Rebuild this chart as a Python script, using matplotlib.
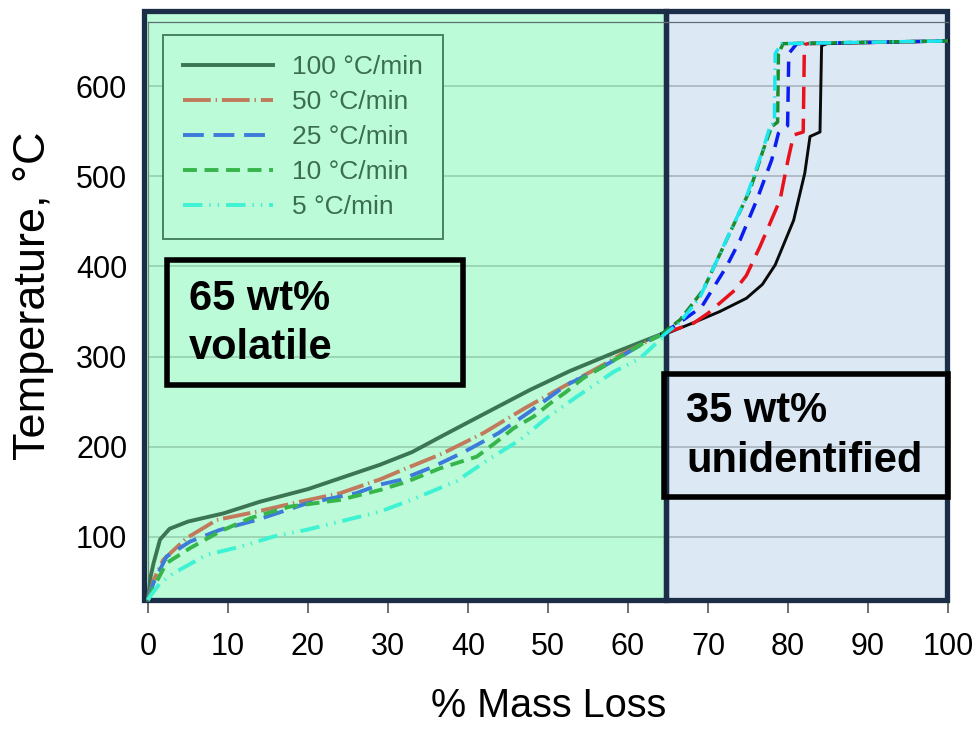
import matplotlib
matplotlib.use('Agg')
import matplotlib.pyplot as plt
from matplotlib.patches import Rectangle

plt.rcParams['font.family'] = ['Liberation Sans', 'DejaVu Sans']
plt.rcParams['lines.scale_dashes'] = False

# ---------------- data ----------------
labels = ['100 °C/min', '50 °C/min', '25 °C/min', '10 °C/min', '5 °C/min']

# volatile part (left panel), x = % mass loss, y = temperature (°C)
x100 = [0, 0.3, 0.7, 1.5, 2.7, 5, 9.4, 14, 20, 24, 29, 33, 37, 41.5, 47.75, 52.75, 58.2, 64.5]
y100 = [30, 55, 71, 97, 109, 117, 126, 139, 153, 165, 180, 194, 213, 234, 263, 284, 304, 326]

x50 = [0, 0.7, 1.9, 4.8, 8.6, 13.6, 19, 24, 29, 32, 36.7, 41.9, 47.1, 52.3, 56.9, 59.4, 62, 64.6]
y50 = [30, 52, 74.5, 98.5, 118.8, 128, 139, 148.4, 163.7, 175, 192, 215, 242.7, 268.5, 290.7, 303.6, 315, 326]

x25 = [0, 0.67, 2.3, 5.25, 9, 13.6, 19.8, 26, 29, 31.5, 35.7, 39.6, 43.8, 47.75, 52.3, 55.7, 59.8, 62.3, 64.6]
y25 = [30, 48.7, 78, 94.8, 107.8, 118.8, 137, 148.4, 158, 163, 178, 194.6, 215, 239, 268.5, 283, 303.6, 316.5, 326]

x10 = [0, 0.7, 2.3, 5.25, 9, 12.75, 17.75, 24, 29, 32.3, 36.5, 41.1, 43.6, 45.7, 48.2, 50.25, 52.3, 54.4, 56.9, 59.4, 61.9, 64.6]
y10 = [30, 44, 70.8, 87.5, 106, 120.7, 133.6, 141, 152, 161, 176, 189, 205.6, 220.5, 233.4, 248, 261, 276, 289, 301.8, 314.7, 326]

x5 = [0, 0.25, 1.5, 3.2, 7.3, 11.5, 15.7, 19.8, 24, 29, 33.2, 38.6, 42.75, 46.5, 49.8, 53.6, 58.2, 61.5, 64.4]
y5 = [30, 33.8, 48.7, 59.7, 80, 89, 100.4, 107.8, 117, 128, 142, 162, 187, 207.5, 231.6, 255.5, 283, 298, 322]

# unidentified part (right panel)
xr100 = [64.2, 65.25, 68.2, 71.5, 74.8, 76.8, 78.4, 80.7, 82.1, 82.75, 84.0, 84.2, 84.9, 100]
yr100 = [325, 327, 337.6, 350, 364.6, 380, 401.6, 451, 503.5, 544, 549, 644.7, 647, 650]

xr50 = [64.2, 68.2, 70, 73.4, 74.8, 76.5, 79, 80, 80.7, 81.9, 82.05, 82.5, 100]
yr50 = [325, 337, 348, 374, 390, 422, 473.6, 518, 545.7, 549, 646, 647, 650]

xr25 = [64.2, 66.5, 69.2, 72.3, 74, 76.1, 77.96, 78.8, 79.4, 79.95, 80.1, 81.1, 100]
yr25 = [325, 338, 355, 399.6, 429, 473.6, 518, 547.6, 553, 556, 636, 647, 650]

xr10 = [64.2, 66.5, 69.4, 72.3, 75.25, 76.9, 77.96, 78.7, 78.8, 79.4, 100]
yr10 = [325, 340.6, 373.8, 429, 484.7, 529, 555, 560, 636, 647, 650]

xr5 = [64.2, 66.5, 69, 71.9, 74.8, 76.7, 77.75, 78.3, 78.4, 79.2, 100]
yr5 = [322, 338, 366, 421.8, 477, 525, 555, 560, 636, 647, 650]

xticks = list(range(0, 101, 10))
yticks = list(range(100, 601, 100))

# ---------------- figure ----------------
fig = plt.figure(figsize=(9.77, 7.29), dpi=100)
ax = fig.add_axes([148/977, 129/729, 800/977, 578/729])
ax.set_xlim(0, 100)
ax.set_ylim(30, 671)
ax.set_facecolor('white')

GREEN_BG = '#BBFBD8'
BLUE_BG = '#DCE8F4'
NAVY = '#1c2e47'
xl, xm, xr = -0.56, 64.7, 99.9
yb, yt = 30, 683.7

ax.add_patch(Rectangle((xl, yb), xm - xl, yt - yb, facecolor=GREEN_BG,
                       edgecolor='none', clip_on=False, zorder=0))
ax.add_patch(Rectangle((xm, yb), xr - xm, yt - yb, facecolor=BLUE_BG,
                       edgecolor='none', clip_on=False, zorder=0))

for v in yticks:
    ax.hlines(v, xl, xm, color='#95cfae', lw=1.2, zorder=1)
    ax.hlines(v, xm, xr, color='#a9b4bf', lw=1.2, zorder=1)

ax.add_patch(Rectangle((xl, yb), xm - xl, yt - yb, facecolor='none',
                       edgecolor=NAVY, lw=3.8, clip_on=False, zorder=2))
ax.add_patch(Rectangle((xm, yb), xr - xm, yt - yb, facecolor='none',
                       edgecolor=NAVY, lw=3.8, clip_on=False, zorder=2))

for s in ['right', 'bottom']:
    ax.spines[s].set_visible(False)
ax.spines['top'].set_color('#5f6d75')
ax.spines['top'].set_linewidth(0.9)
ax.spines['left'].set_color('#6d8c7a')
ax.spines['left'].set_linewidth(0.9)

# left (volatile) curves
lw = 2.8
ax.plot(x100, y100, color='#3C7552', lw=lw, ls='-', label=labels[0], zorder=4, clip_on=False)
ax.plot(x50, y50, color='#C17A5B', lw=lw, ls=(0, (20, 3.5, 1, 3.5)), label=labels[1], zorder=4, clip_on=False)
ax.plot(x25, y25, color='#3D7BDB', lw=lw, ls=(0, (15, 7)), label=labels[2], zorder=4, clip_on=False)
ax.plot(x10, y10, color='#36B54A', lw=lw, ls=(0, (10, 5.5)), label=labels[3], zorder=4, clip_on=False)
ax.plot(x5, y5, color='#3EF2D4', lw=lw, ls=(0, (14, 5, 1, 5, 1, 5)), label=labels[4], zorder=4, clip_on=False)

# right (unidentified) curves
ax.plot(xr100, yr100, color='#0a0a0a', lw=2.1, ls='-', zorder=4, clip_on=False)
ax.plot(xr50, yr50, color='#E8121C', lw=2.5, ls=(0, (16, 7)), zorder=4, clip_on=False)
ax.plot(xr25, yr25, color='#0A1EF0', lw=2.5, ls=(0, (11, 7)), zorder=4, clip_on=False)
ax.plot(xr10, yr10, color='#1E8C2A', lw=2.5, ls=(0, (8, 3.5)), zorder=4, clip_on=False)
ax.plot(xr5, yr5, color='#1CE6F0', lw=2.5, ls=(0, (11, 4, 1, 4)), zorder=4, clip_on=False)

# ticks
ax.set_xticks(xticks)
ax.set_yticks(yticks)
ax.tick_params(axis='x', direction='out', length=9, width=1.2, color='#555555',
               pad=14, labelsize=22)
ax.tick_params(axis='y', length=0, pad=15, labelsize=22)

ax.set_xlabel('% Mass Loss', fontsize=28.5)
ax.xaxis.label.set_va('center')
ax.xaxis.set_label_coords((549 - 148) / 800, (600 - 706) / 578)
ax.set_ylabel('Temperature, °C', fontsize=32.5)
ax.yaxis.label.set_va('center')
ax.yaxis.set_label_coords((33 - 148) / 800, (600 - 296) / 578)

# legend
leg = ax.legend(loc='upper left', bbox_to_anchor=((163 - 148) / 800, (600 - 35) / 578),
                borderaxespad=0, frameon=True, fancybox=False, facecolor=GREEN_BG,
                edgecolor='#3F7A57', framealpha=1, fontsize=19, handlelength=3.4,
                handletextpad=0.75, labelspacing=0.42, borderpad=0.75,
                labelcolor='#3B6E4F')
leg.get_frame().set_linewidth(1.3)
leg.set_zorder(6)

# annotation boxes
ax.add_patch(Rectangle((2.4, 268.5), 39.4 - 2.4, 407 - 268.5, facecolor='none',
                       edgecolor='black', lw=4, zorder=5, clip_on=False))
ax.text(5.1, 337, '65 wt%\nvolatile', fontsize=30, fontweight='bold',
        ha='left', va='center', color='black', zorder=6, linespacing=1.3)

ax.add_patch(Rectangle((64.5, 144.3), 100 - 64.5, 280.7 - 144.3, facecolor='none',
                       edgecolor='black', lw=4, zorder=5, clip_on=False))
ax.text(67.25, 212, '35 wt%\nunidentified', fontsize=30, fontweight='bold',
        ha='left', va='center', color='black', zorder=6, linespacing=1.3)

fig.savefig('out.png', dpi=100, facecolor='white')
